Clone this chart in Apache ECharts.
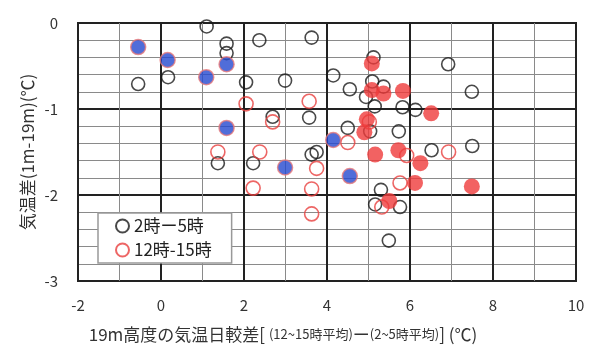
<!DOCTYPE html>
<html><head><meta charset="utf-8">
<script src="https://cdn.jsdelivr.net/npm/echarts@6/dist/echarts.min.js"></script>
<style>html,body{margin:0;padding:0;background:#fff}#c{width:600px;height:364px}</style>
</head><body><div id="c"></div>
<script>
// 2時ー5時 (open black circles)
const night = [[1.10,-0.04],[1.58,-0.24],[1.58,-0.35],[2.37,-0.20],[3.63,-0.17],[-0.55,-0.71],[0.17,-0.63],[2.05,-0.69],[2.99,-0.67],[2.69,-1.09],[3.57,-1.10],[3.63,-1.53],[3.75,-1.50],[1.37,-1.63],[2.22,-1.63],[4.15,-0.61],[4.50,-1.22],[5.12,-0.40],[6.92,-0.48],[4.55,-0.77],[5.09,-0.68],[5.36,-0.74],[4.94,-0.86],[5.15,-0.97],[5.82,-0.98],[6.13,-1.01],[7.49,-0.80],[5.04,-1.26],[5.73,-1.26],[6.52,-1.48],[7.50,-1.43],[5.30,-1.94],[5.16,-2.11],[5.76,-2.14],[5.49,-2.53]];
// 12時-15時 (open red circles)
const day = [[2.05,-0.94],[3.57,-0.91],[2.69,-1.15],[1.37,-1.50],[2.38,-1.50],[3.75,-1.69],[2.22,-1.92],[3.63,-1.93],[3.63,-2.22],[4.50,-1.39],[5.92,-1.54],[6.93,-1.50],[5.76,-1.86],[5.32,-2.14],[5.02,-1.15]];
// highlighted night points (blue filled)
const nightMark = [[-0.55,-0.28],[0.16,-0.43],[1.58,-0.48],[1.09,-0.63],[1.58,-1.22],[2.99,-1.68],[4.15,-1.36],[4.55,-1.78]];
// highlighted day points (red filled)
const dayMark = [[5.08,-0.47],[5.08,-0.78],[5.36,-0.82],[5.83,-0.79],[6.51,-1.05],[4.96,-1.12],[4.90,-1.27],[5.16,-1.53],[5.72,-1.48],[6.25,-1.63],[6.12,-1.86],[7.49,-1.90],[5.50,-2.07]];
const xTicks = [-2,0,2,4,6,8,10];
const yTicks = [0,-1,-2,-3];

const FONT = '"Noto Sans CJK JP", "Noto Sans", sans-serif';
const chart = echarts.init(document.getElementById('c'));
chart.setOption({
  animation: false,
  backgroundColor: '#fff',
  textStyle: { fontFamily: FONT },
  grid: { left: 78, top: 23, width: 498, height: 258, show: true, borderColor: '#222', borderWidth: 2, backgroundColor: 'transparent' },
  xAxis: {
    type: 'value', min: xTicks[0], max: xTicks[xTicks.length-1], interval: 2,
    axisLine: { show: false }, axisTick: { show: false },
    axisLabel: { margin: 17, fontSize: 15, color: '#333', fontFamily: FONT },
    splitLine: { show: true, lineStyle: { color: '#222', width: 2 } },
    minorTick: { show: false, splitNumber: 2 },
    minorSplitLine: { show: true, lineStyle: { color: '#8a8a8a', width: 1 } },
    name: '{a|19m高度の気温日較差[ }{b|(12~15時平均)}{a|ー}{b|(2~5時平均)}{a|] (℃)}',
    nameLocation: 'middle', nameGap: 45, nameMoveOverlap: false,
    nameTextStyle: {
      padding: [0, 88, 0, 0],
      rich: {
        a: { fontSize: 17, color: '#333', fontFamily: FONT },
        b: { fontSize: 13, color: '#333', fontFamily: FONT }
      }
    }
  },
  yAxis: {
    type: 'value', min: -3, max: 0, interval: 1,
    axisLine: { show: false }, axisTick: { show: false },
    axisLabel: { margin: 20, fontSize: 15, color: '#333', fontFamily: FONT },
    splitLine: { show: true, lineStyle: { color: '#222', width: 2 } },
    minorTick: { show: false, splitNumber: 5 },
    minorSplitLine: { show: true, lineStyle: { color: '#8a8a8a', width: 1 } },
    name: '気温差(1m-19m)(℃)', nameLocation: 'middle', nameRotate: 90, nameGap: 42, nameMoveOverlap: false,
    nameTextStyle: { fontSize: 17, color: '#333', fontFamily: FONT }
  },
  legend: {
    data: ['2時ー5時', '12時-15時'],
    orient: 'vertical', left: 98, top: 213,
    padding: [4, 20, 4, 17],
    itemWidth: 13, itemHeight: 13, itemGap: 6,
    backgroundColor: '#fff', borderColor: '#999', borderWidth: 1.5,
    textStyle: { fontSize: 17, color: '#222', lineHeight: 18, fontFamily: FONT },
    icon: 'circle'
  },
  series: [
    { name: '2時ー5時', type: 'scatter', data: night, symbol: 'circle', symbolSize: 13,
      itemStyle: { color: 'rgba(255,255,255,0)', borderColor: '#1a1a1a', borderWidth: 1.6 } },
    { name: '12時-15時', type: 'scatter', data: day, symbol: 'circle', symbolSize: 14,
      itemStyle: { color: 'rgba(255,255,255,0)', borderColor: '#e8403f', borderWidth: 1.6 } },
    { name: 'night-mark', type: 'scatter', data: nightMark, symbol: 'circle', symbolSize: 15,
      itemStyle: { color: '#2448d0', borderColor: '#e87a7a', borderWidth: 1.5 } },
    { name: 'day-mark', type: 'scatter', data: dayMark, symbol: 'circle', symbolSize: 16,
      itemStyle: { color: '#ef3b3b', borderColor: '#ef3b3b', borderWidth: 0 } }
  ]
});
</script></body></html>
